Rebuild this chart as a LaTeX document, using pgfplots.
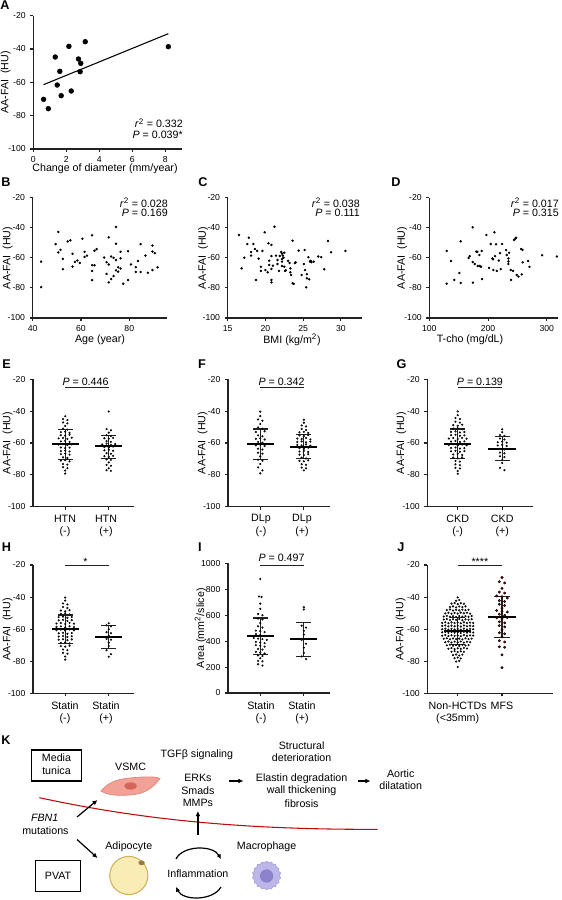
\documentclass[border=0pt]{standalone}
\usepackage{fontspec}
\setmainfont{Liberation Sans}
\usepackage{pgfplots}
\pgfplotsset{compat=1.18}
\usetikzlibrary{arrows.meta,shapes.geometric}
\definecolor{axisc}{HTML}{222222}
\definecolor{dotg}{HTML}{9C9C9C}
\definecolor{mfsred}{HTML}{CC1111}
\definecolor{curvered}{HTML}{BF0A0A}
\definecolor{vsmc}{HTML}{F1A196}
\definecolor{vsmcd}{HTML}{E48376}
\definecolor{vsmcn}{HTML}{D5645A}
\definecolor{adip}{HTML}{F9EDB5}
\definecolor{adipd}{HTML}{CFB25C}
\definecolor{adipn}{HTML}{9B7A45}
\definecolor{macro}{HTML}{BDB6E8}
\definecolor{macrod}{HTML}{A59CDB}
\definecolor{macron}{HTML}{8C82CC}
\newcommand\tk{\fontsize{6.5}{7.5}\selectfont}
\newcommand\lb{\fontsize{8}{9.6}\selectfont}
\newcommand\pl{\fontsize{9.5}{11}\selectfont\bfseries}
\pgfplotsset{
  fig/.style={scale only axis, anchor=south west, clip=false,
    axis x line*=bottom, axis y line*=left,
    axis line style={-, line width=0.8pt, draw=axisc},
    tick align=outside, major tick length=2.2pt,
    every tick/.style={line width=0.8pt, draw=axisc},
    tick label style={font=\tk, text=black},
    ymin=-100, ymax=-20, ytick={-100,-80,-60,-40,-20},
    yticklabels={-100,-80,-60,-40,-20}},
  strip/.style={fig, xtick={0,1}, xticklabels={,}},
  gdot/.style={only marks, mark=*, mark size=0.6pt, mark options={draw=none, fill=dotg}},
  bdot/.style={only marks, mark=*, mark size=0.7pt, mark options={draw=none, fill=black}},
}
\newcommand\msdL[3]{%
  \addplot[axisc, line width=0.8pt] coordinates {(0,#2) (0,#3)};
  \addplot[axisc, line width=0.8pt] coordinates {(-0.17,#2) (0.17,#2)};
  \addplot[axisc, line width=0.8pt] coordinates {(-0.17,#3) (0.17,#3)};
  \addplot[black, line width=1.6pt] coordinates {(-0.31,#1) (0.31,#1)};}
\newcommand\msdR[3]{%
  \addplot[axisc, line width=0.8pt] coordinates {(1,#2) (1,#3)};
  \addplot[axisc, line width=0.8pt] coordinates {(0.83,#2) (1.17,#2)};
  \addplot[axisc, line width=0.8pt] coordinates {(0.83,#3) (1.17,#3)};
  \addplot[black, line width=1.6pt] coordinates {(0.69,#1) (1.31,#1)};}
\begin{document}
\begin{tikzpicture}
\useasboundingbox (0,0) rectangle (420.75pt,675pt);

% ---------------- A
\begin{axis}[fig, at={(24.975pt,563.25pt)}, width=111.3pt, height=99.975pt,
  xmin=0, xmax=9, xtick={0,2,4,6,8}, xticklabels={0,2,4,6,8}]
\addplot[only marks, mark=*, mark size=1.8pt, mark options={draw=none, fill=black}] coordinates {
(0.625,-70.2) (0.91,-75.8) (1.33,-44.8) (1.45,-61.6) (1.61,-53.4) (1.69,-68) (2.16,-38.4)
(2.30,-65.2) (2.74,-46) (2.88,-48.6) (2.84,-53.6) (3.15,-35.6) (8.19,-38.6)};
\addplot[black, line width=0.8pt] coordinates {(0.62,-61.4) (8.19,-30.8)};
\end{axis}

% ---------------- B
\begin{axis}[fig, at={(24.525pt,436.5pt)}, width=100.5pt, height=90.225pt,
  xmin=40, xmax=95.5, xtick={40,60,80}, xticklabels={40,60,80}]
\addplot[bdot] coordinates {
(43.5,-62.5) (43.5,-79.5) (50.6,-42.8) (49.5,-50.9) (50.6,-56.4) (51.5,-54.7) (52.5,-60.7)
(52.5,-67.6) (54.5,-49.1) (55.6,-48.4) (56.5,-57.3) (56.5,-65.8) (57.5,-62.7) (58.5,-61.8)
(59.5,-63.4) (60.6,-47.3) (61.5,-56) (61.5,-59.4) (62.5,-58.5) (64.6,-45) (64.6,-64.9)
(65.6,-64.9) (64.6,-68.7) (64.6,-74.8) (65.6,-55.3) (66.5,-54.2) (69.6,-59.8) (70.6,-62.9)
(71.5,-46.4) (71.5,-64.4) (70.6,-70.7) (71.5,-76.3) (72.5,-74.1) (72.5,-59.1) (73.5,-60)
(73.5,-72.1) (74.5,-39.5) (74.5,-50.6) (74.5,-61.4) (74.5,-68.3) (75.4,-66.3) (75.4,-69.2)
(76.4,-56) (76.4,-60.3) (76.4,-67.1) (77.5,-77.2) (79.5,-55.6) (79.5,-74.8) (80.7,-64.4)
(82.7,-66.2) (82.7,-69.4) (83.6,-62.1) (84.7,-50.9) (84.7,-69.4) (86.7,-58.5) (87.7,-69.9)
(89.6,-51.8) (89.6,-55.8) (90.6,-56.9) (89.6,-68.1) (91.7,-66.3)};
\end{axis}

% ---------------- C
\begin{axis}[fig, at={(170.775pt,436.5pt)}, width=100.725pt, height=90.225pt,
  xmin=15, xmax=32.8, xtick={15,20,25,30}, xticklabels={15,20,25,30}]
\addplot[bdot] coordinates {
(16.5,-44.8) (16.85,-67) (17.2,-59.9) (17.8,-46.6) (17.6,-50.8) (18.1,-56.1) (18.1,-58.5)
(18.4,-50.8) (18.6,-54.1) (18.9,-55.4) (19.1,-60.5) (18.75,-74.7) (19.4,-65.9) (19.4,-68.7)
(19.6,-55.4) (19.9,-43) (20,-68.1) (20.3,-69.6) (20.4,-50.3) (20.5,-61.9) (20.5,-64.7)
(20.8,-51.4) (20.8,-67.4) (21,-65.2) (20.8,-58.8) (20.8,-74.7) (20.8,-76.3) (21.2,-39.3)
(21.4,-58.5) (21.6,-61.4) (21.6,-64.1) (21.8,-68.7) (21.9,-58.8) (22.1,-56.1) (22.2,-57.2)
(22.3,-58.5) (22.4,-59.9) (22.5,-56.6) (22.2,-60.8) (22.2,-62.5) (22.2,-65.4) (22.5,-65.9)
(22.6,-68.7) (22.7,-68.3) (23,-62) (23.2,-63.4) (23.3,-67) (23.3,-69.6) (23.4,-71.4)
(23.6,-48.6) (23.6,-76.9) (23.75,-77.3) (23.9,-63.5) (24,-63) (24.4,-55.2) (24.8,-71.4)
(25.2,-54.8) (25.1,-64.1) (25.25,-68.1) (25.5,-70.9) (25.5,-73.6) (25.4,-79.6) (25.7,-59.6)
(25.9,-62.5) (26,-62) (26.1,-62.9) (25.8,-74.3) (26.4,-62.5) (27,-59.1) (27.4,-59.5)
(27.8,-67.6) (28.3,-48.8) (28.7,-56.3) (30.6,-55.4)};
\end{axis}

% ---------------- D
\begin{axis}[fig, at={(321.975pt,436.5pt)}, width=96.525pt, height=90.225pt,
  xmin=100, xmax=319, xtick={100,200,300}, xticklabels={100,200,300}]
\addplot[bdot] coordinates {
(129.6,-55.4) (129.6,-77.2) (137,-62.1) (142.6,-74.7) (151.2,-70.1) (153.4,-49) (153.4,-76.7)
(167,-60.1) (168.8,-58.9) (173.9,-39.7) (173.9,-62.8) (174.2,-76.5) (177.3,-64.1) (180.1,-55.9)
(181.8,-56) (182.4,-65.4) (185.2,-58.1) (185.8,-65.4) (188,-65.9) (189.2,-55.4) (189.8,-74.1)
(197.2,-44.8) (201.7,-66.7) (204.5,-50.8) (207.4,-60.4) (208.5,-61) (209,-68.1) (210.8,-43)
(211.9,-58.9) (213.6,-51) (214.8,-68.7) (218.2,-61.8) (220.4,-56.9) (221.5,-67.5) (223.9,-50.8)
(230.7,-54.9) (231.8,-58.1) (234.6,-60.4) (234.6,-62.4) (234.6,-64.1) (235.8,-56.6) (238.6,-68.1)
(239.2,-74.7) (242.6,-68.7) (244.3,-48.1) (246.6,-47.2) (247.7,-46.6) (248.8,-71.4) (251.7,-72.5)
(256.2,-54.1) (258.5,-54.7) (257.3,-71) (259,-63) (268.1,-62.1) (270.4,-66) (292,-58.3) (317,-59.1)};
\end{axis}

% ---------------- E
\begin{axis}[strip, at={(24.75pt,294.975pt)}, width=75.75pt, height=95.55pt, xmin=-0.74, xmax=1.58]
\addplot[gdot] coordinates {
(0,-43.2) (-0.05,-45) (0.05,-45.6) (-0.05,-47.1) (0.05,-47.7) (0,-49.3) (-0.05,-51) (0.05,-51.6)
(-0.1,-53.2) (0,-52.9) (0.1,-53.6) (-0.1,-55.1) (0,-55.4) (0.1,-54.8) (-0.15,-57.1) (-0.05,-56.8)
(0.05,-57.4) (0.15,-56.7) (-0.1,-59) (0,-58.7) (0.1,-59.3) (-0.15,-61) (-0.05,-60.7) (0.05,-61.3)
(0.15,-60.9) (-0.1,-62.8) (0,-63.2) (0.1,-62.9) (-0.1,-65.1) (0,-64.7) (0.1,-65.3) (-0.1,-67)
(0,-66.6) (0.1,-67.3) (-0.05,-69) (0.05,-69.4) (-0.1,-71.1) (0,-70.8) (0.1,-71.5) (-0.05,-73.2)
(0.05,-73.6) (-0.05,-75.2) (0.05,-75.8) (0,-77.3) (0,-79.2)};
\addplot[gdot] coordinates {
(1,-40.2) (0.95,-51.3) (1.05,-52) (1,-53.5) (0.95,-55.1) (1.05,-55.6) (0.9,-57) (1,-57.3)
(1.1,-56.8) (0.95,-58.9) (1.05,-59.3) (0.85,-60.9) (0.95,-60.4) (1.05,-61.2) (1.15,-60.7)
(0.9,-62.5) (1,-62.9) (1.1,-62.3) (0.9,-64.6) (1,-64.3) (1.1,-64.9) (0.95,-66.4) (1.05,-66.8)
(0.9,-68.3) (1,-68.7) (1.1,-68.1) (0.95,-70.3) (1.05,-70.6) (1,-72.2) (0.95,-73.8) (1.05,-74.3)
(1,-75.9) (0.95,-77.1) (1.05,-77.5)};
\msdL{-60.6}{-51.4}{-70.2}
\msdR{-62.1}{-55}{-69.6}
\addplot[axisc, line width=0.8pt] coordinates {(0,-25.3) (1,-25.3)};
\end{axis}

% ---------------- F
\begin{axis}[strip, at={(171pt,294.975pt)}, width=76.5pt, height=95.55pt, xmin=-0.74, xmax=1.6]
\addplot[gdot] coordinates {
(0,-40.3) (0,-43.1) (-0.05,-45.2) (0.05,-46) (0,-48.1) (-0.05,-50.2) (0.05,-51) (-0.1,-53.1)
(0.1,-52.6) (-0.05,-55.2) (0.05,-55.8) (-0.1,-57.4) (0,-57) (0.1,-57.8) (-0.05,-59.3) (0.05,-59.8)
(-0.1,-61.5) (0,-61.1) (0.1,-61.9) (-0.05,-63.6) (0.05,-64.1) (-0.05,-66.1) (0.05,-66.7) (0,-68.4)
(-0.05,-70.5) (0.05,-71.1) (0,-73.2) (-0.05,-75.3) (0.05,-77.2) (0,-79.1)};
\addplot[gdot] coordinates {
(1,-45.4) (1,-47.3) (0.95,-49) (1.05,-49.6) (0.95,-51.2) (1.05,-51.8) (0.9,-53.3) (1,-53)
(1.1,-53.7) (0.9,-55.2) (1,-55.6) (1.1,-55) (0.85,-57.2) (0.95,-57.5) (1.05,-56.9) (1.15,-57.7)
(0.85,-59.3) (0.95,-59) (1.05,-59.6) (1.15,-59.1) (0.85,-61.2) (0.95,-61.5) (1.05,-60.9) (1.15,-61.7)
(0.9,-63.2) (1,-63.6) (1.1,-63) (0.9,-65.3) (1,-65) (1.1,-65.6) (0.9,-67.3) (1,-67.6)
(1.1,-67) (0.95,-69.2) (1.05,-69.7) (0.9,-71.2) (1,-71.5) (1.1,-70.9) (0.95,-73.3) (1.05,-73.7)
(0.95,-75.4) (1.05,-75.9) (1,-77.2)};
\msdL{-60.4}{-51.2}{-70.1}
\msdR{-62.5}{-54.6}{-69.6}
\addplot[axisc, line width=0.8pt] coordinates {(0,-25.3) (1,-25.3)};
\end{axis}

% ---------------- G
\begin{axis}[strip, at={(320.475pt,294.975pt)}, width=78.9pt, height=95.55pt, xmin=-0.683, xmax=1.681]
\addplot[gdot] coordinates {
(0,-40.2) (0,-42.5) (-0.05,-44.3) (0.05,-44.9) (-0.05,-46.6) (0.05,-47.2) (-0.1,-48.8) (0,-49.2)
(0.1,-48.5) (-0.1,-51) (0,-50.7) (0.1,-51.4) (-0.15,-53) (-0.05,-52.7) (0.05,-53.4) (0.15,-53.1)
(-0.15,-55.1) (-0.05,-54.8) (0.05,-55.5) (0.15,-55.2) (-0.2,-57.2) (-0.1,-56.9) (0,-57.5) (0.1,-56.8)
(0.2,-57.3) (-0.15,-59.1) (-0.05,-58.7) (0.05,-59.4) (0.15,-59) (-0.2,-61.2) (-0.1,-60.8) (0,-61.5)
(0.1,-61) (0.2,-61.4) (-0.15,-63.1) (-0.05,-62.8) (0.05,-63.5) (0.15,-63.2) (-0.15,-65.2) (-0.05,-64.9)
(0.05,-65.5) (0.15,-65.1) (-0.1,-67.2) (0,-66.8) (0.1,-67.5) (-0.1,-69.2) (0,-69.6) (0.1,-69)
(-0.05,-71.3) (0.05,-71.7) (-0.05,-73.4) (0.05,-73.9) (-0.05,-75.6) (0.05,-76) (0,-77.6) (0,-79.3)};
\addplot[gdot] coordinates {
(1,-51.4) (1,-53.2) (0.95,-55) (1.05,-55.6) (0.95,-57.2) (1.05,-57.8) (0.9,-59.5) (1,-59.1)
(1.1,-59.8) (0.9,-61.6) (1,-61.2) (1.1,-61.9) (0.95,-63.6) (1.05,-64.1) (0.95,-66) (1.05,-66.5)
(0.95,-68.3) (1.05,-68.8) (1,-70.7) (1,-72.5) (0.95,-75.6) (1.05,-77.1)};
\msdL{-60.4}{-51.2}{-69.9}
\msdR{-63.6}{-56.1}{-70.7}
\addplot[axisc, line width=0.8pt] coordinates {(0,-25.3) (1,-25.3)};
\end{axis}

% ---------------- H
\begin{axis}[strip, at={(24.75pt,155.025pt)}, width=75.75pt, height=96.225pt, xmin=-0.74, xmax=1.58]
\addplot[gdot] coordinates {
(0,-40.3) (0,-42.2) (-0.05,-44) (0.05,-44.6) (-0.05,-46.2) (0.05,-46.8) (-0.1,-48.4) (0,-48.9)
(0.1,-48.2) (-0.1,-50.5) (0,-50.1) (0.1,-50.8) (-0.15,-52.5) (-0.05,-52.2) (0.05,-52.9) (0.15,-52.4)
(-0.15,-54.5) (-0.05,-54.2) (0.05,-54.9) (0.15,-54.4) (-0.2,-56.5) (-0.1,-56.2) (0,-56.8) (0.1,-56.1)
(0.2,-56.6) (-0.2,-58.6) (-0.1,-58.3) (0,-58.9) (0.1,-58.2) (0.2,-58.7) (-0.2,-60.6) (-0.1,-60.3)
(0,-60.9) (0.1,-60.2) (0.2,-60.7) (-0.15,-62.6) (-0.05,-62.3) (0.05,-62.9) (0.15,-62.4) (-0.15,-64.6)
(-0.05,-64.3) (0.05,-64.9) (0.15,-64.4) (-0.15,-66.6) (-0.05,-66.3) (0.05,-66.9) (0.15,-66.4) (-0.1,-68.6)
(0,-68.3) (0.1,-68.9) (-0.1,-70.6) (0,-70.9) (0.1,-70.3) (-0.05,-72.7) (0.05,-73.1) (-0.05,-74.8)
(0.05,-75.3) (0,-77.1) (0,-79)};
\addplot[gdot] coordinates {
(1,-56.3) (0.95,-57.6) (1.05,-58.2) (1,-60.1) (0.95,-61.9) (1.05,-62.5) (1,-64.2) (0.95,-66)
(1.05,-66.6) (1,-68.4) (1,-70.5) (0.95,-73.1) (1.05,-75.6) (1,-77.2)};
\msdL{-60.1}{-51.2}{-68.8}
\msdR{-65.1}{-58}{-71.9}
\addplot[axisc, line width=0.8pt] coordinates {(0,-20.4) (1,-20.4)};
\end{axis}

% ---------------- I
\begin{axis}[strip, at={(171pt,155.25pt)}, width=76.5pt, height=97.125pt, xmin=-0.74, xmax=1.6,
  ymin=0, ymax=1000, ytick={0,200,400,600,800,1000}, yticklabels={0,200,400,600,800,1000}]
\addplot[gdot] coordinates {
(0,880) (-0.03,745) (0.03,742) (0,690) (0,650) (-0.05,610) (0.05,600) (-0.05,575) (0.05,568) (0,540)
(-0.05,515) (0.05,505) (-0.1,482) (0,478) (0.1,470) (-0.1,455) (0,448) (0.1,440) (-0.15,425)
(-0.05,420) (0.05,416) (0.15,410) (-0.1,395) (0,390) (0.1,385) (-0.1,370) (0,365) (0.1,358)
(-0.05,340) (0.05,335) (-0.1,318) (0,312) (0.1,305) (-0.05,290) (0.05,285) (0,268) (-0.05,248)
(0.05,245) (-0.05,222) (0.05,212)};
\addplot[gdot] coordinates {
(1,662) (1,645) (0.95,520) (1.05,505) (1,480) (1,450) (0.95,410) (1.05,380) (1,350) (1,310)
(0.95,282) (1.05,262)};
\msdL{440}{579}{299}
\msdR{415}{543}{283}
\addplot[axisc, line width=0.8pt] coordinates {(0,988) (1,988)};
\end{axis}

% ---------------- J
\begin{axis}[strip, at={(320.475pt,155.025pt)}, width=94.275pt, height=96.225pt, xmin=-0.686, xmax=2.151]
\addplot[gdot] coordinates {
(0,-40.2)
(-0.035,-42.3) (0.035,-41.8)
(-0.14,-44.1) (-0.07,-43.7) (0,-44.4) (0.07,-43.8) (0.14,-44.2)
(-0.175,-46.2) (-0.105,-45.8) (-0.035,-46.4) (0.035,-45.9) (0.105,-46.3) (0.175,-45.8)
(-0.245,-48.1) (-0.175,-47.7) (-0.105,-48.4) (-0.035,-47.9) (0.035,-48.3) (0.105,-47.8) (0.175,-48.2) (0.245,-47.9)
(-0.28,-50.2) (-0.21,-49.8) (-0.14,-50.4) (-0.07,-49.9) (0,-50.3) (0.07,-49.7) (0.14,-50.1) (0.21,-49.8) (0.28,-50.3)
(-0.315,-52.1) (-0.245,-51.7) (-0.175,-52.3) (-0.105,-51.9) (-0.035,-52.4) (0.035,-51.8) (0.105,-52.2) (0.175,-51.9) (0.245,-52.3) (0.315,-51.8)
(-0.315,-54) (-0.245,-53.7) (-0.175,-54.3) (-0.105,-53.8) (-0.035,-54.2) (0.035,-53.7) (0.105,-54.4) (0.175,-53.9) (0.245,-54.1) (0.315,-53.8)
(-0.35,-56.1) (-0.28,-55.7) (-0.21,-56.3) (-0.14,-55.8) (-0.07,-56.2) (0,-55.9) (0.07,-56.4) (0.14,-55.7) (0.21,-56.2) (0.28,-55.9) (0.35,-56.1)
(-0.35,-58) (-0.28,-57.7) (-0.21,-58.3) (-0.14,-57.8) (-0.07,-58.2) (0,-57.9) (0.07,-58.4) (0.14,-57.7) (0.21,-58.2) (0.28,-57.9) (0.35,-58.1)
(-0.35,-60.1) (-0.28,-59.7) (-0.21,-60.3) (-0.14,-59.8) (-0.07,-60.2) (0,-59.9) (0.07,-60.4) (0.14,-59.7) (0.21,-60.2) (0.28,-59.8) (0.35,-60.1)
(-0.35,-62) (-0.28,-61.7) (-0.21,-62.3) (-0.14,-61.8) (-0.07,-62.2) (0,-61.9) (0.07,-62.4) (0.14,-61.7) (0.21,-62.2) (0.28,-61.8) (0.35,-62.1)
(-0.35,-64.1) (-0.28,-63.7) (-0.21,-64.3) (-0.14,-63.8) (-0.07,-64.2) (0,-63.9) (0.07,-64.4) (0.14,-63.7) (0.21,-64.2) (0.28,-63.9) (0.35,-64)
(-0.315,-66) (-0.245,-65.7) (-0.175,-66.3) (-0.105,-65.8) (-0.035,-66.2) (0.035,-65.9) (0.105,-66.4) (0.175,-65.7) (0.245,-66.2) (0.315,-65.9)
(-0.28,-68.1) (-0.21,-67.7) (-0.14,-68.3) (-0.07,-67.8) (0,-68.2) (0.07,-67.7) (0.14,-68.4) (0.21,-67.9) (0.28,-68.1)
(-0.245,-70.1) (-0.175,-69.7) (-0.105,-70.3) (-0.035,-69.9) (0.035,-70.4) (0.105,-69.8) (0.175,-70.2) (0.245,-69.9)
(-0.21,-72.2) (-0.14,-71.8) (-0.07,-72.4) (0,-71.9) (0.07,-72.3) (0.14,-71.7) (0.21,-72.1)
(-0.14,-74.1) (-0.07,-73.7) (0,-74.3) (0.07,-73.8) (0.14,-74.2)
(-0.105,-76.2) (-0.035,-75.8) (0.035,-76.4) (0.105,-75.9)
(-0.07,-78.1) (0,-77.7) (0.07,-78.3)
(-0.035,-80.2) (0.035,-79.8)
(0,-83.6)};
\addplot[only marks, mark=*, mark size=0.85pt, mark options={draw=none, fill=mfsred}] coordinates {
(1,-27.8) (0.94,-30.4) (1.06,-31.2) (1,-34.6) (0.94,-36.9) (1.06,-37.5) (0.88,-39.3) (1,-39.8)
(1.12,-40.6) (0.94,-42.2) (1.06,-42.8) (0.94,-44.5) (1.06,-45.3) (1,-46.9) (0.88,-48.4) (1,-48.8)
(1.12,-49.3) (0.94,-50.7) (1.06,-51.4) (0.88,-53) (1,-53.6) (1.12,-52.8) (0.94,-55.4) (1.06,-56.1)
(0.94,-57.8) (1.06,-58.6) (1,-60.4) (0.94,-62.2) (1.06,-62.9) (1,-64.8) (0.94,-67.2) (1.06,-68)
(0.94,-71) (1.06,-71.3) (1,-76) (1,-84)};
\msdL{-61.3}{-52.5}{-69.7}
\msdR{-52.5}{-39.5}{-65.3}
\addplot[axisc, line width=0.8pt] coordinates {(0,-20.4) (1,-20.4)};
\end{axis}

% ---------------- texts and schematic (pixel coordinates, origin top-left)
\begin{scope}[x=0.75pt,y=-0.75pt,yshift=675pt, every node/.style={font=\lb, inner sep=0pt}]
% panel letters
\node[font=\pl] at (5,5) {A};
\node[font=\pl] at (6,182.5) {B};
\node[font=\pl] at (203,182.5) {C};
\node[font=\pl] at (396,182.5) {D};
\node[font=\pl] at (6.5,364) {E};
\node[font=\pl] at (202,364) {F};
\node[font=\pl] at (401.5,364) {G};
\node[font=\pl] at (6.5,547.5) {H};
\node[font=\pl] at (200,547.5) {I};
\node[font=\pl] at (401,547.5) {J};
\node[font=\pl] at (6,740) {K};
% y labels
\node[rotate=90] at (5.5,82.4) {AA-FAI~~(HU)};
\node[rotate=90] at (7.7,257.9) {AA-FAI~~(HU)};
\node[rotate=90] at (203,257.9) {AA-FAI~~(HU)};
\node[rotate=90] at (402,257.9) {AA-FAI~~(HU)};
\node[rotate=90] at (7.7,443) {AA-FAI~~(HU)};
\node[rotate=90] at (202.5,443) {AA-FAI~~(HU)};
\node[rotate=90] at (401.3,443) {AA-FAI~~(HU)};
\node[rotate=90] at (7.7,629.2) {AA-FAI~~(HU)};
\node[rotate=90] at (200.5,628.2) {Area (mm\textsuperscript{2}/slice)};
\node[rotate=90] at (400.5,629.2) {AA-FAI~~(HU)};
% x labels
\node at (105,169) {Change of diameter (mm/year)};
\node at (100,340) {Age (year)};
\node at (292,340) {BMI (kg/m\textsuperscript{2})};
\node at (470,340) {T-cho (mg/dL)};
% stats
\node[anchor=east] at (183,123.3) {\textit{r}\textsuperscript{2} = 0.332};
\node[anchor=east] at (183,135) {\textit{P} = 0.039*};
\node[anchor=east] at (168,202.7) {\textit{r}\textsuperscript{2} = 0.028};
\node[anchor=east] at (168,213.3) {\textit{P} = 0.169};
\node[anchor=east] at (360,202.7) {\textit{r}\textsuperscript{2} = 0.038};
\node[anchor=east] at (360,213.3) {\textit{P} = 0.111};
\node[anchor=east] at (559,202.7) {\textit{r}\textsuperscript{2} = 0.017};
\node[anchor=east] at (559,213.3) {\textit{P} = 0.315};
\node[anchor=base] at (85.5,386) {\textit{P} = 0.446};
\node[anchor=base] at (281.5,386) {\textit{P} = 0.342};
\node[anchor=base] at (479.95,386) {\textit{P} = 0.139};
\node[anchor=base] at (85.5,566) {*};
\node[anchor=base] at (281.5,561.7) {\textit{P} = 0.497};
\node[anchor=base] at (479.85,566) {****};
% category labels
\node at (65,519) {HTN}; \node at (106,519) {HTN};
\node at (65,531.5) {(-)}; \node at (106,531.5) {(+)};
\node at (261,519) {DLp}; \node at (302,519) {DLp};
\node at (261,531.5) {(-)}; \node at (302,531.5) {(+)};
\node at (457.7,519) {CKD}; \node at (502.2,519) {CKD};
\node at (457.7,531.5) {(-)}; \node at (502.2,531.5) {(+)};
\node at (65,705.5) {Statin}; \node at (106,705.5) {Statin};
\node at (65,718.5) {(-)}; \node at (106,718.5) {(+)};
\node at (261,705.5) {Statin}; \node at (302,705.5) {Statin};
\node at (261,718.5) {(-)}; \node at (302,718.5) {(+)};
\node at (457.7,705.5) {Non-HCTDs}; \node at (457.7,718.5) {(<35mm)};
\node at (502,705.5) {MFS};
% ---- K schematic
\draw[line width=0.8pt] (31.5,750) rectangle (81.6,781);
\node at (56.5,757.8) {Media};
\node at (56.5,770.5) {tunica};
\draw[line width=0.8pt] (35.8,860.7) rectangle (80.5,891.7);
\node at (58.1,876.2) {PVAT};
\node at (130.6,766.7) {VSMC};
\draw[fill=vsmc, draw=vsmcd, line width=0.5pt] (101,791) .. controls (109,781) and (120,778.5) .. (135,777.5)
  .. controls (148,776.5) and (156,776.5) .. (160,778.5) .. controls (153,788) and (145,794) .. (130,795)
  .. controls (117,796) and (107,795) .. (101,791) -- cycle;
\fill[vsmcn] (130.6,786) ellipse [x radius=4.8pt, y radius=2.7pt];
\node at (196.8,755) {TGFβ signaling};
\node at (197.9,778.3) {ERKs};
\node at (197.9,791) {Smads};
\node at (197.9,803.3) {MMPs};
\node at (301.6,745.7) {Structural};
\node at (301.6,757.7) {deterioration};
\node at (301.6,778.3) {Elastin degradation};
\node at (301.6,791) {wall thickening};
\node at (301.6,803.3) {fibrosis};
\node at (400.7,774) {Aortic};
\node at (400.7,786) {dilatation};
\draw[-{Latex[length=3.8pt,width=3.6pt]}, line width=0.9pt] (229,781) -- (243.5,781);
\draw[-{Latex[length=3.8pt,width=3.6pt]}, line width=0.9pt] (357.5,781) -- (370.5,781);
\draw[curvered, line width=0.8pt] (39.4,797.7) .. controls (120,815) and (220,830) .. (377.5,829.3);
\node at (44.7,817.7) {\textit{FBN1}};
\node at (45.4,830.3) {mutations};
\draw[-{Latex[length=3.8pt,width=3.6pt]}, line width=0.9pt] (77,817) -- (97.5,800);
\draw[-{Latex[length=3.8pt,width=3.6pt]}, line width=0.9pt] (77,839.5) -- (97.5,858);
\node at (128.8,846.7) {Adipocyte};
\draw[fill=adip, draw=adipd, line width=0.8pt] (128.8,875.5) circle [radius=14.3pt];
\fill[adipn] (141.6,862.8) ellipse [x radius=2.4pt, y radius=1.8pt];
\draw[-{Latex[length=3.8pt,width=3.6pt]}, line width=0.9pt] (197.9,835) -- (197.9,811);
\node at (197.9,873.3) {Inflammation};
\draw[-{Latex[length=3.5pt,width=3.5pt]}, line width=0.9pt] (176,859) .. controls (183,845) and (213,845) .. (221,859);
\draw[-{Latex[length=3.5pt,width=3.5pt]}, line width=0.9pt] (221,887) .. controls (213,901) and (183,901) .. (176,887);
\node at (266.6,846.7) {Macrophage};
\node[star, star points=18, star point ratio=1.12, minimum size=21.5pt, fill=macro, draw=macrod, line width=0.4pt] at (266.6,875.5) {};
\fill[macron] (266.6,876) circle [radius=5pt];
\end{scope}
\end{tikzpicture}
\end{document}
